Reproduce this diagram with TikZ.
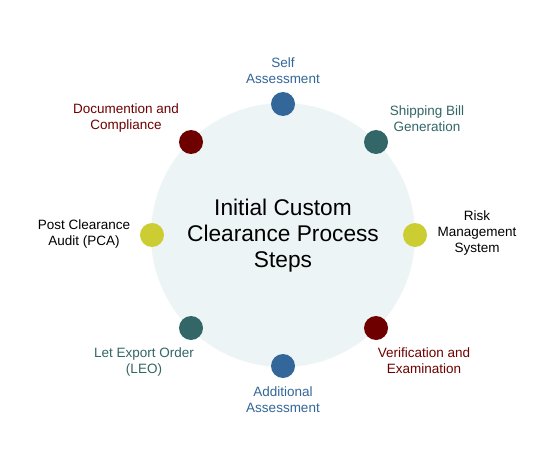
\documentclass[tikz,border=0pt]{standalone}
\usepackage{fontspec}
\setmainfont{Liberation Sans}
\definecolor{bgc}{HTML}{EDF4F6}
\definecolor{cblue}{HTML}{336699}
\definecolor{cteal}{HTML}{336666}
\definecolor{cyel}{HTML}{CCCC33}
\definecolor{cred}{HTML}{6E0000}
\begin{document}
\begin{tikzpicture}[x=1pt,y=1pt,
  dot/.style={circle,minimum size=24pt,inner sep=0pt},
  lbl/.style={align=center,font=\fontsize{13.5}{16}\selectfont,inner sep=0pt}]
\useasboundingbox (0,0) rectangle (556,472);
\fill[white] (0,0) rectangle (556,472);
\node[circle,fill=bgc,minimum size=264pt,inner sep=0pt] (c) at (283,237) {};
\node[align=center,font=\fontsize{22.7}{26}\selectfont,inner sep=0pt] (t) at (283,236) {Initial Custom\\Clearance Process\\Steps};
\node[dot,fill=cblue] (d1) at (283,368) {};
\node[dot,fill=cteal] (d2) at (376,330) {};
\node[dot,fill=cyel] (d3) at (415,237) {};
\node[dot,fill=cred] (d4) at (376,144) {};
\node[dot,fill=cblue] (d5) at (283,106) {};
\node[dot,fill=cteal] (d6) at (191,144) {};
\node[dot,fill=cyel] (d7) at (152,237) {};
\node[dot,fill=cred] (d8) at (191,330) {};
\node[lbl,text=cblue] (l1) at (283,401) {Self\\Assessment};
\node[lbl,text=cteal] (l2) at (427,353) {Shipping Bill\\Generation};
\node[lbl,text=black] (l3) at (477,239) {Risk\\Management\\System};
\node[lbl,text=cred] (l4) at (424,111) {Verification and\\Examination};
\node[lbl,text=cblue] (l5) at (283,72) {Additional\\Assessment};
\node[lbl,text=cteal] (l6) at (144,110) {Let Export Order\\(LEO)};
\node[lbl,text=black] (l7) at (84,238) {Post Clearance\\Audit (PCA)};
\node[lbl,text=cred] (l8) at (126,354) {Documention and\\Compliance};
\end{tikzpicture}
\end{document}
